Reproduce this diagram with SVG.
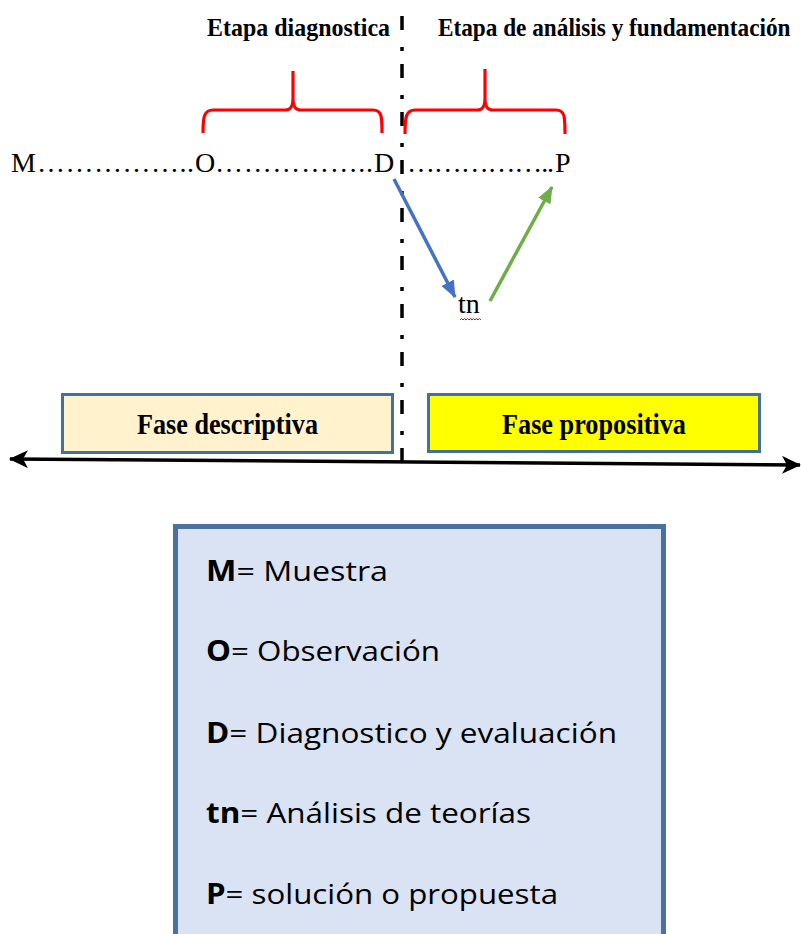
<svg xmlns="http://www.w3.org/2000/svg" width="801" height="934" viewBox="0 0 801 934">
<style>
.serif{font-family:"Liberation Serif","Times New Roman",serif;fill:#000}
.title{font-size:25px;font-weight:bold}
.row{font-size:28px}
.phase{font-size:29px;font-weight:bold}
.leg{font-family:"Open Sans","Noto Sans","Liberation Sans",sans-serif;font-size:28px;fill:#000}
.brace{fill:none;stroke:#ff0000;stroke-width:3.2}
.box{stroke:#41719c;stroke-width:3}
</style>
<defs>
<marker id="hBlue" markerUnits="userSpaceOnUse" markerWidth="18" markerHeight="14" refX="16" refY="7" orient="auto"><path d="M0,0 L17,7 L0,14 z" fill="#4472c4"/></marker>
<marker id="hGreen" markerUnits="userSpaceOnUse" markerWidth="18" markerHeight="14" refX="16" refY="7" orient="auto"><path d="M0,0 L17,7 L0,14 z" fill="#70ad47"/></marker>
<marker id="hBlack" markerUnits="userSpaceOnUse" markerWidth="20" markerHeight="18" refX="18" refY="9" orient="auto-start-reverse"><path d="M0,0 L19,9 L0,18 L5,9 z" fill="#000"/></marker>
</defs>

<g id="titles">
<text class="serif title" x="207" y="36" textLength="183" lengthAdjust="spacingAndGlyphs">Etapa diagnostica</text>
<text class="serif title" transform="translate(438,36) scale(0.93,1)" x="0" y="0">Etapa de análisis y fundamentación</text>
</g>

<g id="divider">
<line x1="402" y1="16" x2="402" y2="462" stroke="#000" stroke-width="3.5" stroke-dasharray="14 17 4 13"/>
</g>

<g id="braces">
<path class="brace" d="M203,133 C203,117 204,110 213,110 L285,110 C291,110 293,106 293,98 L293,71 M293,98 C293,106 295,110 301,110 L373,110 C382,110 382,117 382,133"/>
<path class="brace" d="M405,134 C405,117 406,110 415,110 L477,110 C483,110 485,106 485,98 L485,69 M485,98 C485,106 487,110 493,110 L556,110 C565,110 565,117 565,134"/>
</g>

<g id="sequence">
<text class="serif row" x="11" y="172">M</text>
<text class="serif row" x="37" y="172" textLength="157" lengthAdjust="spacing">……………..</text>
<text class="serif row" x="195" y="172">O</text>
<text class="serif row" x="215" y="172" textLength="158" lengthAdjust="spacing">……………..</text>
<text class="serif row" x="374" y="172">D</text>
<text class="serif row" x="407" y="172" textLength="147" lengthAdjust="spacing">……………..</text>
<text class="serif row" x="555" y="172">P</text>
</g>

<g id="tn">
<text class="serif row" x="458" y="313">tn</text>
<path d="M460,320 l1.5,-1.5 l1.5,1.5 l1.5,-1.5 l1.5,1.5 l1.5,-1.5 l1.5,1.5 l1.5,-1.5 l1.5,1.5 l1.5,-1.5 l1.5,1.5 l1.5,-1.5 l1.5,1.5 l1.5,-1.5 l1.5,1.5" fill="none" stroke="#ff0000" stroke-width="1"/>
</g>

<g id="connectors">
<line x1="394" y1="179" x2="455" y2="297" stroke="#4472c4" stroke-width="3.5" marker-end="url(#hBlue)"/>
<line x1="490" y1="301" x2="552" y2="187" stroke="#70ad47" stroke-width="3.5" marker-end="url(#hGreen)"/>
<line x1="10" y1="459" x2="800" y2="465" stroke="#000" stroke-width="3.5" marker-start="url(#hBlack)" marker-end="url(#hBlack)"/>
</g>

<g id="fase-descriptiva">
<rect class="box" x="62.5" y="394.5" width="330" height="58" fill="#fff2cc"/>
<text class="serif phase" x="137" y="434" textLength="181" lengthAdjust="spacingAndGlyphs">Fase descriptiva</text>
</g>

<g id="fase-propositiva">
<rect class="box" x="428.5" y="394.5" width="331" height="57" fill="#ffff00"/>
<text class="serif phase" x="502" y="434" textLength="184" lengthAdjust="spacingAndGlyphs">Fase propositiva</text>
</g>

<g id="legend">
<rect x="175.5" y="526.5" width="488" height="420" fill="#dae3f3" stroke="#4a72a0" stroke-width="5"/>
<text class="leg" x="206" y="581" textLength="182" lengthAdjust="spacingAndGlyphs"><tspan font-weight="bold">M</tspan>= Muestra</text>
<text class="leg" x="206" y="661" textLength="234" lengthAdjust="spacingAndGlyphs"><tspan font-weight="bold">O</tspan>= Observación</text>
<text class="leg" x="206" y="743" textLength="411" lengthAdjust="spacingAndGlyphs"><tspan font-weight="bold">D</tspan>= Diagnostico y evaluación</text>
<text class="leg" x="206" y="823" textLength="325" lengthAdjust="spacingAndGlyphs"><tspan font-weight="bold">tn</tspan>= Análisis de teorías</text>
<text class="leg" x="206" y="904" textLength="352" lengthAdjust="spacingAndGlyphs"><tspan font-weight="bold">P</tspan>= solución o propuesta</text>
</g>
</svg>
